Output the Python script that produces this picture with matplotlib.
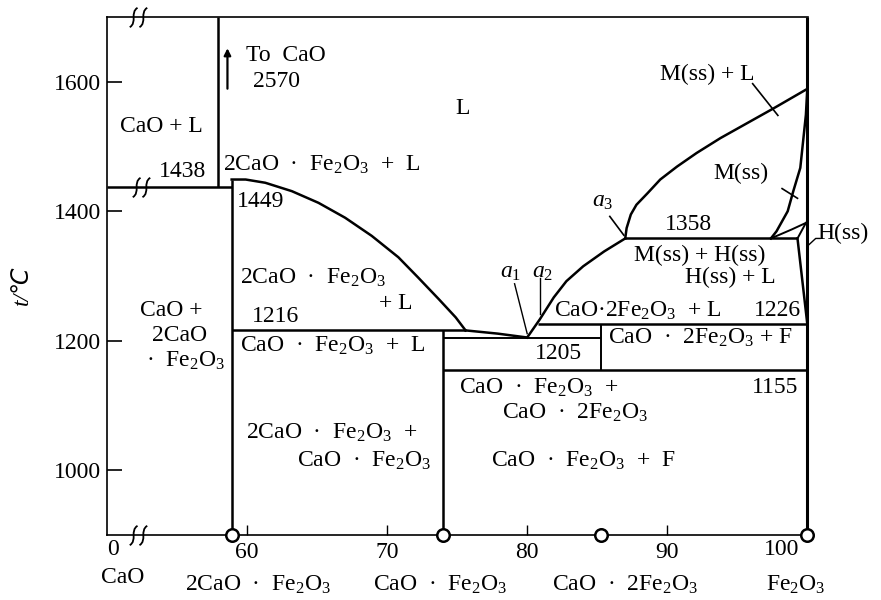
import matplotlib
matplotlib.use("Agg")
import matplotlib.pyplot as plt
from matplotlib.path import Path

# CaO - Fe2O3 phase diagram (x: wt% Fe2O3, y: temperature in C)

# compound compositions (wt% Fe2O3)
x_c2f = 58.9      # 2CaO.Fe2O3
x_cf = 74.0       # CaO.Fe2O3
x_cf2 = 85.3      # CaO.2Fe2O3
x_fe = 100.0      # Fe2O3
comp_x = [x_c2f, x_cf, x_cf2, x_fe]

# invariant points
x_e1 = 57.9       # CaO + L / 2CaO.Fe2O3 eutectic
x_p1 = 75.6       # peritectic 1216
x_a1 = 80.0       # eutectic 1205
x_a2 = 80.8       # peritectic 1226
x_a3 = 87.0       # 1358
x_h = 99.3
t_e1 = 1438
t_c2f = 1449
t_p1 = 1216
t_a1 = 1205
t_a2 = 1226
t_a3 = 1358
t_low = 1155

# liquidus of 2CaO.Fe2O3
liq1_x = [58.9, 59.9, 61.3, 63.2, 65.1, 67.0, 68.9, 70.8, 72.2, 73.7, 74.9, 75.6]
liq1_t = [1449, 1449, 1444, 1431, 1413, 1390, 1362, 1329, 1298, 1264, 1236, 1216]
# liquidus of CaO.Fe2O3
liq2_x = [75.6, 77.9, 80.0]
liq2_t = [1216, 1211, 1205]
# liquidus up to a3
liq3_x = [80.0, 80.9, 81.9, 82.8, 84.0, 85.5, 87.0]
liq3_t = [1205, 1233, 1267, 1292, 1315, 1338, 1358]
# M(ss) liquidus
liq4_x = [87.0, 87.1, 87.4, 87.8, 88.6, 89.5, 90.7, 92.1, 93.8, 95.7, 97.6, 100.0]
liq4_t = [1358, 1374, 1395, 1410, 1428, 1449, 1469, 1490, 1513, 1536, 1559, 1589]
# M(ss) solidus
sol_x = [100.0, 99.9, 99.7, 99.5, 99.0, 98.6, 97.8, 97.4]
sol_t = [1589, 1549, 1508, 1467, 1431, 1400, 1369, 1358]
# H(ss) small field
hss1_x = [97.4, 98.9, 99.9]
hss1_t = [1358, 1372, 1382]
hss2_x = [99.9, 99.3]
hss2_t = [1382, 1358]
hss3_x = [99.3, 100.0]
hss3_t = [1358, 1226]

plt.rcParams['font.family'] = ['Liberation Serif', 'DejaVu Serif']
plt.rcParams['mathtext.fontset'] = 'custom'
plt.rcParams['mathtext.rm'] = 'Liberation Serif'
plt.rcParams['mathtext.it'] = 'Liberation Serif:italic'
plt.rcParams['font.size'] = 17

fig = plt.figure(figsize=(8.81, 6.0), dpi=100)
ax = fig.add_axes([107/881, 65/600, 701/881, 518/600])
ax.set_xlim(50, 100.05)
ax.set_ylim(900, 1700)

lw = 1.8
k = 'black'

# curves
ax.plot(liq1_x, liq1_t, color=k, lw=lw)
ax.plot(liq2_x, liq2_t, color=k, lw=lw)
ax.plot(liq3_x, liq3_t, color=k, lw=lw)
ax.plot(liq4_x, liq4_t, color=k, lw=lw)
ax.plot(sol_x, sol_t, color=k, lw=lw)
ax.plot(hss1_x, hss1_t, color=k, lw=1.4)
ax.plot(hss2_x, hss2_t, color=k, lw=1.4)
ax.plot(hss3_x, hss3_t, color=k, lw=lw)

# horizontal invariant lines
ax.hlines(t_e1, 50, x_c2f, color=k, lw=lw)
ax.hlines(t_p1, x_c2f, x_p1, color=k, lw=lw)
ax.hlines(t_a1, x_cf, x_cf2, color=k, lw=1.4)
ax.hlines(t_a2, x_a2, x_fe, color=k, lw=lw)
ax.hlines(t_low, x_cf, x_fe, color=k, lw=lw)
ax.hlines(t_a3, x_a3, x_h, color=k, lw=lw)

# vertical lines
ax.vlines(x_e1, t_e1, 1700, color=k, lw=lw)
ax.vlines(x_c2f, 900, t_c2f, color=k, lw=lw)
ax.vlines(x_cf, 900, t_p1, color=k, lw=lw)
ax.vlines(x_cf2, t_low, t_a2, color=k, lw=1.4)
ax.vlines(x_fe, 900, 1700, color=k, lw=2.2, clip_on=False)

# compound markers
ax.plot(comp_x, [900] * len(comp_x), 'o', ms=9, mfc='white', mec=k, mew=1.8,
        clip_on=False, zorder=6)

# axis breaks
s_path = Path([(-0.9, -1), (-0.1, -0.5), (-0.9, 0.5), (-0.1, 1),
               (0.1, -1), (0.9, -0.5), (0.1, 0.5), (0.9, 1)],
              [Path.MOVETO, Path.CURVE4, Path.CURVE4, Path.CURVE4,
               Path.MOVETO, Path.CURVE4, Path.CURVE4, Path.CURVE4])
ax.plot([52.2, 52.4, 52.2], [1700, t_e1, 900], ls='none', marker=s_path, ms=14,
        mfc='none', mec=k, mew=1.3, clip_on=False, zorder=6)

# arrow "To CaO"
ax.annotate('', xy=(58.6, 1656), xytext=(58.6, 1585),
            arrowprops=dict(arrowstyle='-|>', color=k, lw=1.6, mutation_scale=10))

# leader lines
ax.plot([96.1, 97.9], [1597, 1548], color=k, lw=1.2)
ax.plot([98.2, 99.3], [1435, 1420], color=k, lw=1.2)
ax.plot([85.9, 86.9], [1392, 1363], color=k, lw=1.2)
ax.plot([79.1, 80.0], [1288, 1211], color=k, lw=1.0)
ax.plot([80.9, 80.9], [1297, 1242], color=k, lw=1.0)
ax.plot([100.0, 100.6, 100.9], [1346, 1358, 1358], color=k, lw=1.0, clip_on=False)

# region labels
F = r'Fe$_2$O$_3$'
labels = [
    ('To  CaO', 59.9, 1641, 'left'),
    ('2570', 60.4, 1600, 'left'),
    ('L', 75.4, 1558, 'center'),
    ('CaO + L', 53.9, 1531, 'center'),
    ('1438', 55.4, 1462, 'center'),
    ('2CaO  ·  ' + F + '  +  L', 58.3, 1472, 'left'),
    ('1449', 59.3, 1415, 'left'),
    ('M(ss) + L', 89.5, 1612, 'left'),
    ('M(ss)', 93.3, 1458, 'left'),
    ('$a_3$', 85.4, 1415, 'center'),
    ('1358', 91.5, 1380, 'center'),
    ('M(ss) + H(ss)', 87.6, 1331, 'left'),
    ('H(ss) + L', 91.3, 1297, 'left'),
    ('H(ss)', 100.7, 1365, 'left'),
    ('$a_1$', 78.8, 1305, 'center'),
    ('$a_2$', 81.1, 1305, 'center'),
    ('CaO·2' + F + '  + L', 81.9, 1246, 'left'),
    ('1226', 97.9, 1246, 'center'),
    ('CaO  ·  2' + F + ' + F', 85.8, 1205, 'left'),
    ('1205', 82.2, 1180, 'center'),
    ('CaO  ·  ' + F + '  +', 75.1, 1128, 'left'),
    ('CaO  ·  2' + F, 78.2, 1089, 'left'),
    ('1155', 97.7, 1128, 'center'),
    ('CaO  ·  ' + F + '  +  F', 77.4, 1015, 'left'),
    ('2CaO  ·  ' + F + '  +', 59.9, 1057, 'left'),
    ('CaO  ·  ' + F, 63.6, 1015, 'left'),
    ('CaO +', 54.6, 1246, 'center'),
    ('2CaO', 55.2, 1208, 'center'),
    ('·  ' + F, 55.6, 1169, 'center'),
    ('1216', 62.0, 1238, 'center'),
    ('CaO  ·  ' + F + '  +  L', 59.5, 1192, 'left'),
    ('2CaO  ·  ' + F, 59.5, 1297, 'left'),
    ('+ L', 69.4, 1257, 'left'),
]
for txt, x, y, ha in labels:
    ax.text(x, y, txt, ha=ha, va='center')

# composition labels under the axis
ax.text(50.4, 877, '0', ha='center', va='center')
ax.text(51.1, 835, 'CaO', ha='center', va='center')
ax.text(98.2, 877, '100', ha='center', va='center')
bottom_names = ['2CaO  ·  ' + F, 'CaO  ·  ' + F, 'CaO  ·  2' + F, F]
bottom_x = [60.8, 73.8, 87.0, 99.2]
for name, x in zip(bottom_names, bottom_x):
    ax.text(x, 823, name, ha='center', va='center')

# ticks and frame
ax.set_yticks([1000, 1200, 1400, 1600])
ax.set_xticks([60, 70, 80, 90])
ax.tick_params(axis='y', direction='in', length=11, width=1.2, pad=4)
ax.tick_params(axis='x', direction='in', length=7, width=1.0, pad=5)
for s in ['left', 'top', 'bottom']:
    ax.spines[s].set_linewidth(1.2)
ax.spines['right'].set_visible(False)

fig.text(22/881, 1 - 285/600, 't/℃', rotation=90, ha='center', va='center',
         style='italic', family=['Liberation Serif', 'DejaVu Sans', 'Noto Sans CJK SC'])

fig.savefig('out.png', dpi=100)
